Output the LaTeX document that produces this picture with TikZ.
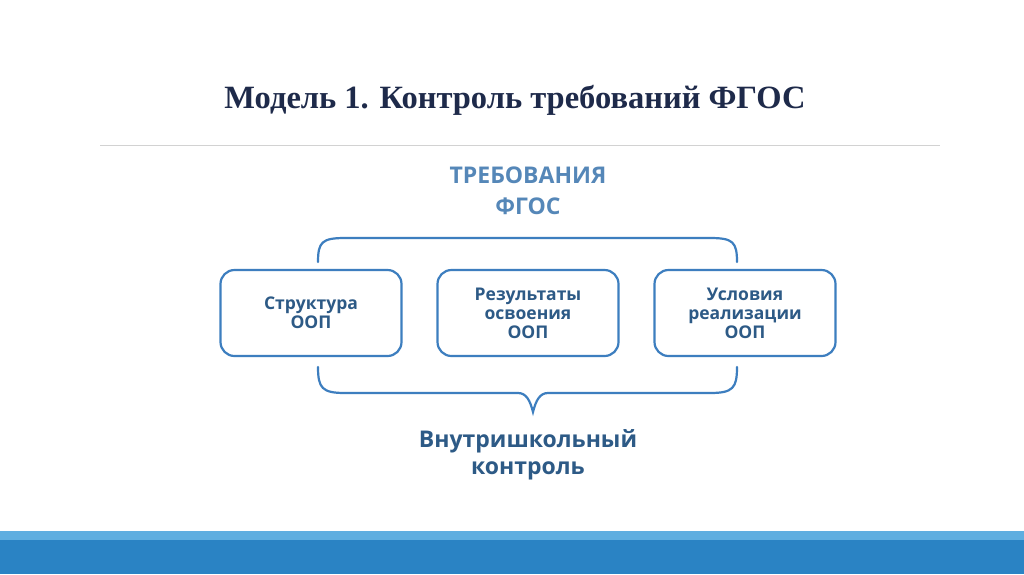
\documentclass[tikz,border=0pt]{standalone}
\usepackage{fontspec}
\setmainfont{Open Sans}
\newfontfamily\titlefont{Liberation Serif}
\begin{document}
\begin{tikzpicture}[x=1pt,y=-1pt,
  boxst/.style={draw=blue1,line width=2.2pt,rounded corners=14pt,minimum width=181pt,minimum height=86pt,align=center,text=txt,font=\fontsize{17.5}{19}\selectfont\bfseries},
  bracest/.style={draw=blue1,line width=2.2pt,line cap=round}]
\definecolor{blue1}{HTML}{3D7EBF}
\definecolor{txt}{HTML}{2D5A86}
\definecolor{hdr}{HTML}{5587B8}
\definecolor{ttl}{HTML}{1E2A4A}
\definecolor{bar1}{HTML}{5FAEE0}
\definecolor{bar2}{HTML}{2A83C4}
\useasboundingbox (0,0) rectangle (1024,574);
\fill[white] (0,0) rectangle (1024,574);
\node[font=\titlefont\fontsize{32.5}{36}\selectfont\bfseries,text=ttl] (title) at (515,100) {Модель 1. Контроль требований ФГОС};
\draw[gray!35,line width=1pt] (100,145) -- (940,145);
\node[font=\fontsize{23}{31}\selectfont\bfseries,text=hdr,align=center] (req) at (528,191) {ТРЕБОВАНИЯ\\ФГОС};
\node[boxst] (b1) at (311,313) {Структура\\ООП};
\node[boxst] (b2) at (528,313) {Результаты\\освоения\\ООП};
\node[boxst] (b3) at (745,313) {Условия\\реализации\\ООП};
\coordinate (tl) at (318,262); \coordinate (tr) at (737,262);
\draw[bracest] (tl) .. controls (318,242) and (322,238) .. (345,238) -- (710,238) .. controls (733,238) and (737,242) .. (tr);
\coordinate (bl) at (318,367); \coordinate (br) at (737,367); \coordinate (tip) at (533,412);
\draw[bracest] (bl) .. controls (318,388) and (322,393) .. (345,393) -- (518,393) .. controls (526,393) and (530,400) .. (tip) .. controls (536,400) and (540,393) .. (548,393) -- (710,393) .. controls (733,393) and (737,388) .. (br);
\node[font=\fontsize{23}{27}\selectfont\bfseries,text=txt,align=center] (ctrl) at (528,455) {Внутришкольный\\контроль};
\fill[bar1] (0,531) rectangle (1024,540);
\fill[bar2] (0,540) rectangle (1024,574);
\end{tikzpicture}
\end{document}
